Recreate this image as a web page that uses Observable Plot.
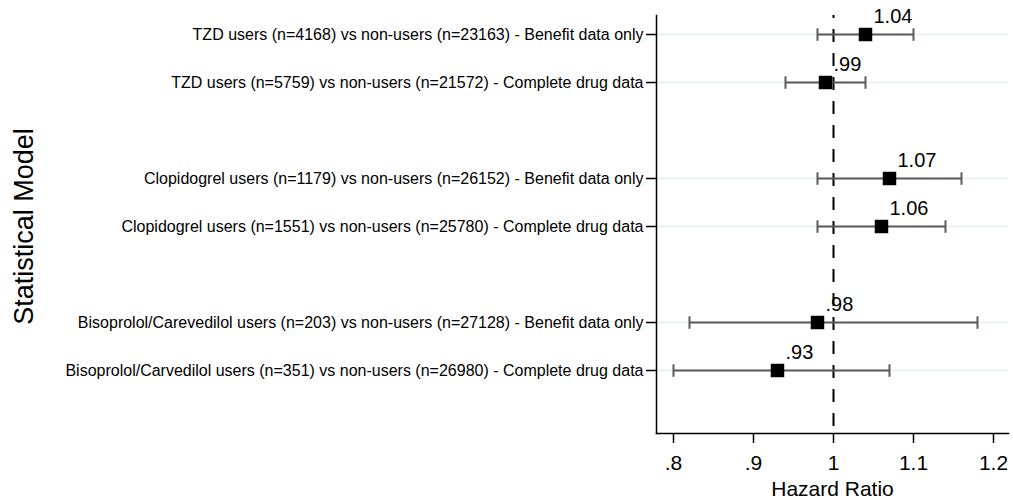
<!DOCTYPE html>
<html>
<head>
<meta charset="utf-8">
<script src="https://cdn.jsdelivr.net/npm/d3@7"></script>
<script src="https://cdn.jsdelivr.net/npm/@observablehq/plot@0.6"></script>
<style>
  html, body { margin: 0; padding: 0; background: white; }
</style>
</head>
<body>
<div id="chart"></div>
<script>
const labels = [
  "TZD users (n=4168) vs non-users (n=23163) - Benefit data only",
  "TZD users (n=5759) vs non-users (n=21572) - Complete drug data",
  "Clopidogrel users (n=1179) vs non-users (n=26152) - Benefit data only",
  "Clopidogrel users (n=1551) vs non-users (n=25780) - Complete drug data",
  "Bisoprolol/Carevedilol users (n=203) vs non-users (n=27128) - Benefit data only",
  "Bisoprolol/Carvedilol users (n=351) vs non-users (n=26980) - Complete drug data"
];
const groups = ["TZD", "TZD", "Clopidogrel", "Clopidogrel", "Beta-blocker", "Beta-blocker"];
const hazardRatio = [1.04, 0.99, 1.07, 1.06, 0.98, 0.93];
const ciLow = [0.98, 0.94, 0.98, 0.98, 0.82, 0.80];
const ciHigh = [1.10, 1.04, 1.16, 1.14, 1.18, 1.07];
const xTicks = [0.8, 0.9, 1, 1.1, 1.2];
const xTickLabels = [".8", ".9", "1", "1.1", "1.2"];

const groupOrder = [...new Set(groups)];
const rows = labels.map((label, i) => ({
  label,
  hr: hazardRatio[i],
  lo: ciLow[i],
  hi: ciHigh[i],
  pos: i + groupOrder.indexOf(groups[i])
}));
const labelByPos = new Map(rows.map(d => [d.pos, d.label]));
const stataFmt = v => d3.format(".2f")(v).replace(/^0\./, ".");

const vbar = {
  draw(ctx, size) {
    const r = Math.sqrt(size / Math.PI);
    ctx.moveTo(0, -r);
    ctx.lineTo(0, r);
  }
};

const chart = Plot.plot({
  width: 1013,
  height: 500,
  marginLeft: 656,
  marginRight: 5,
  marginTop: 15,
  marginBottom: 67,
  style: { fontFamily: "'Liberation Sans', Arial, Helvetica, sans-serif", background: "white", color: "black" },
  x: { domain: [0.77875, 1.21875] },
  y: { domain: [-0.396, 8.3125], reverse: true },
  marks: [
    Plot.ruleY(rows, { y: "pos", stroke: "#e7eff1", strokeWidth: 2 }),
    Plot.ruleX([1], { stroke: "black", strokeWidth: 2, strokeDasharray: "13,11", strokeDashoffset: 10 }),
    Plot.ruleY(rows, { y: "pos", x1: "lo", x2: "hi", stroke: "#5a5a5a", strokeWidth: 2 }),
    Plot.dot(rows, { x: "lo", y: "pos", symbol: vbar, r: 6.3, fill: "none", stroke: "#5a5a5a", strokeWidth: 2 }),
    Plot.dot(rows, { x: "hi", y: "pos", symbol: vbar, r: 6.3, fill: "none", stroke: "#5a5a5a", strokeWidth: 2 }),
    Plot.dot(rows, { x: "hr", y: "pos", symbol: "square", r: 7.6, fill: "black", stroke: "none" }),
    Plot.text(rows, { x: "hr", y: "pos", text: d => stataFmt(d.hr), textAnchor: "start", lineAnchor: "bottom", dx: 8, dy: -12, fontSize: 20, fill: "black" }),
    Plot.frame({ anchor: "left", stroke: "black", strokeWidth: 1.5 }),
    Plot.frame({ anchor: "bottom", stroke: "black", strokeWidth: 1.5 }),
    Plot.axisY({ ticks: rows.map(d => d.pos), tickFormat: p => labelByPos.get(p), tickSize: 10, tickPadding: 3, fontSize: 16, label: null, strokeWidth: 1.5 }),
    Plot.axisX({ ticks: xTicks, tickFormat: v => xTickLabels[xTicks.indexOf(v)], tickSize: 10, tickPadding: 12, fontSize: 21, label: null, strokeWidth: 1.5 }),
    Plot.text(["Hazard Ratio"], { frameAnchor: "bottom", textAnchor: "middle", lineAnchor: "bottom", dy: 62, fontSize: 21, fill: "black" }),
    Plot.text(["Statistical Model"], { frameAnchor: "left", textAnchor: "middle", lineAnchor: "middle", rotate: -90, dx: -632, dy: 2, fontSize: 27, fill: "black" })
  ]
});
document.getElementById("chart").appendChild(chart);
</script>
</body>
</html>
